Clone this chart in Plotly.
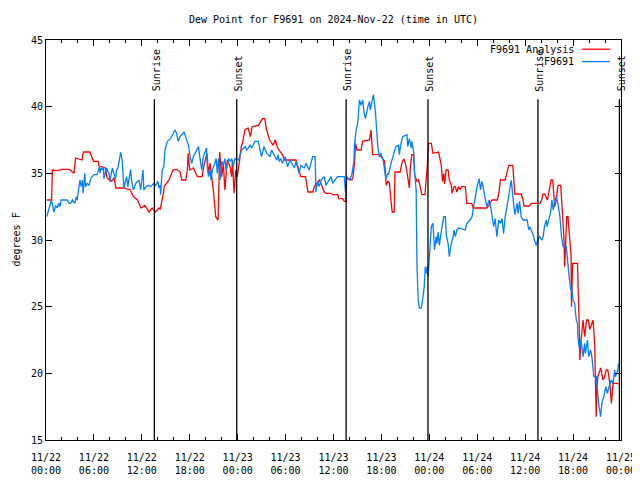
import pandas as pd
import plotly.graph_objects as go

start = pd.Timestamp("2024-11-22 00:00")
end = pd.Timestamp("2024-11-25 00:00")

# ---- data (hours after 2024-11-22 00:00 UTC, dew point in deg F) ----
analysis_hours = [
    0.1, 0.7, 0.8, 1.5, 2.0, 2.9, 3.5, 3.7, 4.5, 4.7, 5.5, 5.95, 6.55, 6.65, 7.45, 7.65,
    8.15, 8.55, 8.75, 9.75, 10.55, 10.95, 11.45, 11.9, 12.4, 12.9, 13.3, 13.7, 14.15, 14.3,
    14.7, 14.8, 15.4, 15.9, 16.35, 16.8, 17.0, 17.5, 17.7, 17.8, 18.0, 18.45, 18.95, 19.55,
    19.75, 20.15, 20.35, 20.55, 20.95, 21.25, 21.55, 21.75, 22.0, 22.2, 22.4, 22.7, 23.05,
    23.25, 23.35, 23.55, 23.75, 23.95, 24.25, 24.45, 24.65, 24.9, 25.3, 25.6, 25.8, 26.6,
    27.1, 27.4, 27.6, 28.0, 28.45, 28.7, 29.0, 29.6, 29.9, 31.3, 31.5, 31.7, 31.9, 32.5,
    32.6, 32.8, 33.4, 33.6, 33.85, 34.25, 34.45, 34.85, 35.05, 35.65, 35.9, 36.55, 36.65,
    37.15, 37.35, 37.55, 37.65, 38.3, 38.45, 38.65, 38.75, 38.95, 39.45, 39.65, 40.5, 40.7,
    40.9, 41.75, 42.4, 42.6, 42.8, 43.0, 43.2, 43.35, 43.6, 43.7, 44.35, 44.55, 44.8, 45.0,
    45.2, 45.5, 45.6, 45.8, 46.05, 46.15, 46.45, 46.65, 46.85, 47.05, 47.45, 47.6, 47.75,
    47.9, 48.25, 48.45, 49.15, 49.5, 49.65, 49.8, 49.9, 50.1, 50.35, 50.5, 50.75, 50.85,
    51.1, 51.25, 51.45, 51.65, 51.85, 52.05, 52.5, 52.7, 53.3, 53.5, 55.2, 55.45, 55.85,
    56.5, 56.7, 56.9, 57.5, 57.7, 57.95, 58.45, 58.5, 58.7, 59.5, 59.7, 59.85, 60.55, 60.75,
    61.85, 62.05, 62.25, 62.45, 62.65, 62.8, 63.05, 63.25, 63.45, 63.6, 63.7, 63.9, 64.1,
    64.45, 64.55, 64.75, 64.85, 64.95, 65.05, 65.2, 65.35, 65.6, 65.75, 65.8, 65.95, 66.55,
    66.65, 66.75, 66.85, 67.0, 67.25, 67.45, 67.7, 67.9, 68.1, 68.5, 68.7, 68.8, 68.9, 69.0,
    69.1, 69.45, 69.75, 69.95, 70.15, 70.35, 70.6, 70.8, 71.0, 71.6, 71.85,
]
analysis_dewpt = [
    33.0, 33.0, 35.25, 35.2, 35.3, 35.3, 35.0, 36.15, 36.0, 36.6, 36.6, 35.9, 35.9, 35.55, 35.4, 34.65,
    34.4, 34.65, 33.9, 33.9, 33.75, 33.25, 33.0, 32.4, 32.6, 32.1, 32.4, 32.1, 32.4, 32.3,
    33.5, 34.0, 34.5, 35.25, 35.3, 35.1, 34.5, 34.5, 35.25, 36.5, 35.25, 35.4, 34.75, 34.75,
    35.5, 36.5, 35.0, 35.75, 33.75, 31.75, 31.5, 36.6, 34.75, 35.75, 33.75, 36.0, 35.5,
    34.75, 36.0, 33.5, 35.2, 34.75, 36.0, 37.0, 37.4, 38.25, 38.4, 37.75, 38.5, 38.6,
    39.1, 39.1, 38.3, 37.5, 37.1, 37.5, 36.9, 36.4, 36.0, 36.0, 35.6, 35.2, 34.75, 34.75,
    34.4, 33.6, 33.6, 34.0, 34.2, 34.5, 34.2, 33.6, 33.5, 33.5, 33.4, 33.4, 33.1,
    33.1, 32.9, 32.9, 34.6, 34.5, 34.75, 35.9, 37.25, 36.75, 36.75, 37.4, 37.5, 38.25,
    36.4, 36.4, 35.9, 34.1, 34.4, 34.3, 32.9, 32.1, 32.1, 35.1, 35.1, 35.75, 36.1, 35.75,
    35.1, 33.9, 35.25, 36.4, 36.4, 34.9, 34.4, 34.5, 34.0, 33.4, 33.4, 34.4, 35.6,
    37.25, 37.25, 36.5, 36.6, 35.6, 34.4, 35.0, 34.2, 35.25, 35.25, 34.5, 34.1, 33.5,
    34.0, 34.0, 33.6, 34.0, 33.8, 34.0, 34.0, 32.75, 32.75, 32.4, 32.4, 32.6, 33.0,
    33.0, 33.5, 34.5, 34.5, 35.0, 35.6, 35.6, 35.25, 33.45, 33.45, 33.1, 32.55, 32.55, 32.75,
    32.75, 33.0, 33.45, 33.45, 33.2, 33.0, 33.9, 34.5, 34.5, 33.0, 32.5, 33.0, 34.1,
    34.1, 33.0, 31.75, 30.25, 28.0, 29.5, 31.75, 31.75, 29.5, 28.8, 25.0, 28.25, 28.25,
    26.5, 24.0, 21.0, 22.5, 24.0, 22.75, 24.0, 24.0, 23.3, 24.0, 22.25, 20.25, 16.75, 19.0,
    19.75, 20.4, 19.5, 19.75, 20.25, 20.25, 19.25, 17.75, 19.25, 19.25, 19.1,
]

station_hours = [
    0.1, 0.37, 0.68, 1.0, 1.2, 1.4, 1.6, 1.75, 1.9, 2.65, 2.9, 3.1, 3.3, 3.6, 3.8, 3.9,
    4.1, 4.25, 4.4, 4.55, 4.65, 4.85, 4.95, 5.15, 5.4, 5.6, 5.8, 6.0, 6.4, 6.55, 6.7, 6.75,
    6.85, 7.05, 7.2, 7.25, 7.5, 7.6, 7.75, 7.9, 8.0, 8.1, 8.3, 8.5, 8.7, 8.85, 9.0, 9.15,
    9.35, 9.55, 9.7, 9.75, 10.1, 10.25, 10.4, 10.6, 10.7, 10.95, 11.25, 11.65, 11.85, 12.05,
    12.15, 12.25, 12.5, 12.9, 13.1, 13.5, 13.75, 14.0, 14.15, 14.3, 14.35, 14.55, 14.75,
    14.9, 15.2, 15.6, 15.95, 16.15, 16.35, 16.55, 16.8, 17.2, 17.3, 17.55, 17.85, 18.05,
    18.25, 18.45, 18.8, 19.1, 19.2, 19.5, 19.7, 20.1, 20.2, 20.35, 20.55, 20.65, 20.85,
    21.3, 21.45, 21.6, 21.8, 22.0, 22.2, 22.4, 22.55, 22.85, 23.05, 23.25, 23.45, 23.65,
    24.1, 24.3, 24.5, 24.95, 25.15, 25.55, 25.75, 26.15, 26.6, 26.8, 27.0, 27.3, 27.65,
    28.05, 28.25, 28.9, 29.05, 29.2, 29.4, 29.6, 29.95, 30.25, 30.55, 31.1, 31.3, 31.7,
    31.9, 32.35, 32.55, 32.95, 33.4, 33.7, 33.8, 34.0, 34.2, 34.45, 34.85, 35.05, 35.5,
    35.7, 35.9, 36.3, 36.5, 37.35, 37.5, 37.65, 38.0, 38.3, 38.55, 38.65, 38.8, 39.05,
    39.25, 39.45, 39.65, 39.85, 40.0, 40.3, 40.5, 40.6, 40.85, 41.0, 41.25, 41.35, 41.55,
    41.75, 41.95, 42.25, 42.45, 42.55, 42.8, 42.9, 43.2, 43.5, 43.8, 44.15, 44.25, 44.4,
    44.65, 45.2, 45.3, 45.5, 45.75, 45.8, 46.05, 46.15, 46.35, 46.45, 46.6, 46.75, 47.0,
    47.15, 47.35, 47.45, 47.5, 47.65, 47.75, 47.85, 48.0, 48.1, 48.25, 48.45, 48.65, 48.85,
    48.95, 49.1, 49.25, 49.4, 49.5, 49.6, 49.8, 50.0, 50.15, 50.35, 50.5, 50.75, 50.9,
    51.1, 51.25, 51.45, 51.65, 52.5, 52.7, 53.1, 53.35, 53.55, 53.75, 53.95, 54.25, 54.4,
    54.6, 54.95, 55.2, 55.5, 55.75, 56.05, 56.25, 56.45, 56.7, 56.9, 57.1, 57.3, 57.5,
    57.7, 58.0, 58.25, 58.35, 58.7, 59.0, 59.1, 59.3, 59.5, 59.75, 60.25, 60.45, 60.55,
    60.75, 61.0, 61.2, 61.4, 61.6, 61.8, 62.1, 62.25, 62.45, 62.65, 62.75, 62.95, 63.2,
    63.35, 63.5, 63.7, 63.9, 64.1, 64.35, 64.55, 64.75, 65.15, 65.25, 65.35, 65.5, 65.7,
    65.8, 66.0, 66.2, 66.4, 66.55, 66.6, 66.8, 67.0, 67.25, 67.45, 67.55, 67.8, 67.95,
    68.2, 68.35, 68.6, 68.9, 69.0, 69.2, 69.45, 69.6, 69.85, 70.1, 70.3, 70.5, 70.8, 71.0,
    71.2, 71.3, 71.6, 71.7,
]
station_dewpt = [
    31.75, 32.4, 33.0, 32.1, 32.6, 32.4, 32.75, 32.5, 33.0, 33.0, 32.75, 32.75, 33.0, 32.75, 33.25, 33.0,
    33.75, 34.5, 34.0, 34.5, 33.5, 35.0, 34.0, 34.25, 34.1, 34.6, 34.75, 34.9, 34.9, 35.25, 35.5, 35.0,
    35.4, 35.25, 35.5, 34.6, 35.25, 35.4, 35.1, 35.0, 34.4, 34.75, 35.4, 35.0, 34.6, 35.25, 35.4, 35.9,
    36.6, 35.9, 34.75, 33.9, 34.75, 34.0, 34.6, 35.3, 34.5, 33.75, 34.25, 34.5, 33.75, 34.6,
    35.25, 33.75, 34.0, 34.1, 34.0, 34.25, 34.1, 34.4, 33.9, 34.1, 33.4, 35.25, 35.5,
    36.75, 37.4, 37.6, 38.1, 38.25, 38.0, 37.4, 37.75, 38.1, 38.1, 37.6, 37.1, 36.25,
    35.75, 36.25, 36.6, 37.0, 36.5, 35.25, 36.25, 36.9, 35.5, 34.75, 35.25, 34.5, 35.25,
    36.1, 35.0, 36.1, 34.5, 35.9, 35.6, 36.1, 35.25, 36.1, 35.9, 36.1, 35.5, 36.1,
    36.0, 36.4, 36.75, 37.0, 36.75, 37.1, 36.9, 37.4, 37.4, 36.75, 36.25, 37.0, 36.5,
    36.25, 36.75, 36.0, 36.4, 35.9, 36.1, 35.75, 36.25, 35.5, 36.0, 35.4, 35.9, 35.0,
    35.6, 35.4, 35.75, 35.25, 36.25, 36.25, 33.6, 34.4, 34.0, 34.5, 34.75, 34.1, 34.5,
    34.75, 34.25, 34.6, 34.75, 34.75, 33.6, 34.75, 34.5, 34.9, 35.9, 37.25, 38.1, 38.9,
    40.5, 40.1, 40.5, 39.5, 39.1, 40.0, 40.4, 39.75, 40.6, 40.9, 39.6, 38.75, 37.0,
    36.25, 36.5, 35.9, 34.75, 34.6, 35.0, 34.9, 35.75, 36.4, 37.0, 37.1, 36.4, 37.1,
    37.75, 37.9, 37.0, 37.6, 36.9, 37.4, 36.5, 35.1, 33.75, 28.25, 25.5, 24.9, 24.9,
    25.5, 26.4, 27.5, 28.0, 27.5, 28.0, 27.25, 28.75, 30.25, 31.0, 31.25, 29.25, 30.25,
    29.75, 30.6, 29.6, 30.25, 30.6, 30.75, 31.75, 31.75, 30.25, 29.75, 28.75, 29.75, 30.0,
    30.75, 30.25, 30.75, 30.9, 30.75, 31.25, 31.5, 31.75, 32.5, 33.25, 33.9, 34.6, 33.75,
    34.4, 33.1, 32.5, 33.0, 32.25, 31.0, 31.6, 30.25, 31.5, 31.25, 31.6, 30.5, 31.75,
    32.4, 33.75, 34.5, 33.9, 31.9, 32.75, 32.0, 32.9, 31.75, 31.5, 31.5, 30.75, 31.0,
    30.75, 30.4, 29.9, 29.6, 30.1, 30.25, 30.0, 30.25, 31.1, 31.5, 31.0, 31.5, 32.1,
    33.0, 32.25, 32.9, 33.25, 32.75, 31.75, 30.25, 29.5, 29.5, 29.0, 28.25, 27.25, 26.25,
    26.5, 25.5, 25.25, 24.0, 23.75, 22.75, 21.75, 22.5, 21.25, 22.25, 21.5, 22.5, 21.25,
    21.75, 21.25, 19.75, 19.75, 19.0, 17.75, 16.75, 17.75, 18.25, 19.0, 18.5, 19.0, 19.5, 19.25,
    20.25, 19.75, 20.25, 20.75,
]

sunrise_hours = [13.57, 37.58, 61.6]
sunset_hours = [23.88, 47.83, 71.8]

series_names = ["F9691 Analysis", "F9691"]
series_colors = ["#ff0000", "#0080ff"]

FONT = "DejaVu Sans Mono"

# the page has an 8px body margin, so the figure is sized to fit the 640x480 window
FIG_W, FIG_H = 632, 472


def to_time(hours):
    return [start + pd.Timedelta(hours=h) for h in hours]


fig = go.Figure()
fig.add_trace(go.Scatter(x=to_time(analysis_hours), y=analysis_dewpt, mode="lines",
                         line=dict(color=series_colors[0], width=1.3),
                         name=series_names[0], showlegend=False))
fig.add_trace(go.Scatter(x=to_time(station_hours), y=station_dewpt, mode="lines",
                         line=dict(color=series_colors[1], width=1.3),
                         name=series_names[1], showlegend=False))

shapes = []
annotations = []
for label, hrs in (("Sunrise", sunrise_hours), ("Sunset", sunset_hours)):
    for h in hrs:
        t = start + pd.Timedelta(hours=h)
        shapes.append(dict(type="line", xref="x", yref="y", x0=t, x1=t, y0=15, y1=40.55,
                           line=dict(color="black", width=1.3), layer="above"))
        annotations.append(dict(x=t, y=41.0, xref="x", yref="y", text=label, textangle=-90,
                                showarrow=False, xanchor="center", yanchor="bottom", xshift=1.5,
                                font=dict(family=FONT, size=10, color="black")))

# key (text right-aligned, sample line to its right, gnuplot style)
key_y = [0.977, 0.946]
for name, color, ky in zip(series_names, series_colors, key_y):
    annotations.append(dict(x=0.922, y=ky, xref="paper", yref="paper", text=name,
                            showarrow=False, xanchor="right", yanchor="middle",
                            font=dict(family=FONT, size=10, color="black")))
    shapes.append(dict(type="line", xref="paper", yref="paper", x0=0.932, x1=0.981,
                       y0=ky, y1=ky, line=dict(color=color, width=1.3)))

# y-axis title as a rotated label left of the tick labels
annotations.append(dict(x=-0.053, y=0.5, xref="paper", yref="paper", text="degrees F",
                        textangle=-90, showarrow=False, xanchor="center", yanchor="middle",
                        font=dict(family=FONT, size=10, color="black")))

fig.update_layout(
    width=FIG_W, height=FIG_H,
    margin=dict(l=38, r=19, t=32, b=40, autoexpand=False),
    paper_bgcolor="white", plot_bgcolor="white",
    font=dict(family=FONT, size=10, color="black"),
    title=dict(text="Dew Point for F9691 on 2024-Nov-22 (time in UTC)",
               x=0.5, xref="paper", xanchor="center",
               y=1 - 11 / FIG_H, yref="container", yanchor="middle",
               font=dict(family=FONT, size=10, color="black")),
    shapes=shapes, annotations=annotations, showlegend=False,
)
fig.update_xaxes(
    type="date", range=[start, end], automargin=False,
    tick0=start, dtick=6 * 3600 * 1000, tickformat="%m/%d<br>%H:%M",
    ticks="inside", ticklen=6, tickcolor="black", tickwidth=1, ticklabelstandoff=8,
    minor=dict(dtick=2 * 3600 * 1000, ticks="inside", ticklen=3, tickcolor="black", showgrid=False),
    showline=True, linecolor="black", linewidth=1, mirror="allticks",
    showgrid=False, zeroline=False, tickfont=dict(family=FONT, size=10),
)
fig.update_yaxes(
    range=[15, 45], tick0=15, dtick=5, automargin=False,
    ticks="inside", ticklen=6, tickcolor="black", tickwidth=1,
    showline=True, linecolor="black", linewidth=1, mirror="allticks",
    showgrid=False, zeroline=False, tickfont=dict(family=FONT, size=10),
)

fig.write_html("out.html")
